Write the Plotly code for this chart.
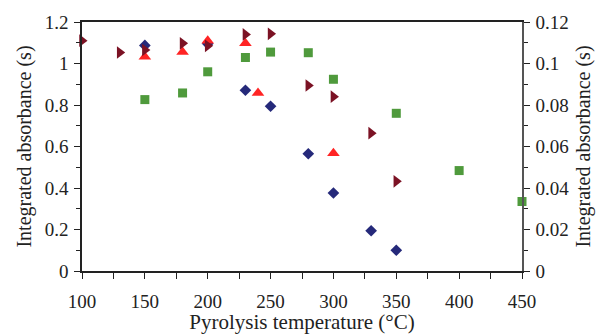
import plotly.graph_objects as go

# Data
x_diamond = [150, 200, 230, 250, 280, 300, 330, 350]
y_diamond = [1.087, 1.095, 0.871, 0.794, 0.565, 0.376, 0.194, 0.100]

x_tri_up = [150, 180, 200, 230, 240, 300]
y_tri_up = [1.032, 1.056, 1.110, 1.097, 0.858, 0.568]

x_tri_right = [100, 130, 150, 180, 200, 230, 250, 280, 300, 330, 350]
y_tri_right = [1.110, 1.053, 1.065, 1.097, 1.085, 1.140, 1.143, 0.894, 0.840, 0.664, 0.432]

x_square = [150, 180, 200, 230, 250, 280, 300, 350, 400, 450]
y_square = [0.0826, 0.0858, 0.0960, 0.1029, 0.1055, 0.1052, 0.0924, 0.0760, 0.0484, 0.0335]

x_ticks = [100, 150, 200, 250, 300, 350, 400, 450]
y_ticks = [0, 0.2, 0.4, 0.6, 0.8, 1.0, 1.2]
y_tick_labels = ["0", "0.2", "0.4", "0.6", "0.8", "1", "1.2"]
y2_ticks = [0, 0.02, 0.04, 0.06, 0.08, 0.10, 0.12]
y2_tick_labels = ["0", "0.02", "0.04", "0.06", "0.08", "0.1", "0.12"]

FONT = "Liberation Serif"
FS = 19

fig = go.Figure()
fig.add_trace(go.Scatter(x=x_square, y=y_square, mode="markers", yaxis="y2",
                         marker=dict(symbol="square", size=9, color="#4f9a3c"),
                         cliponaxis=False, showlegend=False))
fig.add_trace(go.Scatter(x=x_diamond, y=y_diamond, mode="markers",
                         marker=dict(symbol="diamond", size=9, color="#25297a"),
                         cliponaxis=False, showlegend=False))
fig.add_trace(go.Scatter(x=x_tri_up, y=y_tri_up, mode="markers",
                         marker=dict(symbol="triangle-up", size=11, color="#ff2424"),
                         cliponaxis=False, showlegend=False))
fig.add_trace(go.Scatter(x=x_tri_right, y=y_tri_right, mode="markers",
                         marker=dict(symbol="triangle-right", size=11, color="#7b1224"),
                         cliponaxis=False, showlegend=False))

fig.update_layout(
    width=604, height=334,
    margin=dict(l=82, r=82, t=22, b=63),
    paper_bgcolor="white", plot_bgcolor="white",
    font=dict(family=FONT, size=FS, color="#222"),
    xaxis=dict(range=[100, 450], tickvals=x_ticks, showgrid=False, zeroline=False,
               automargin=False,
               showline=True, linecolor="#222", linewidth=1.5, mirror=True,
               ticks="outside", ticklen=6, tickcolor="#222", ticklabelstandoff=6,
               minor=dict(dtick=25, ticks="outside", ticklen=6, tickcolor="#222"),
               title=dict(text="Pyrolysis temperature (°C)", standoff=2,
                          font=dict(family=FONT, size=21))),
    yaxis=dict(range=[0, 1.2], tickvals=y_ticks, ticktext=y_tick_labels,
               showgrid=False, zeroline=False, automargin=False,
               showline=True, linecolor="#222", linewidth=1.5,
               ticks="outside", ticklen=6, tickcolor="#222", ticklabelstandoff=2,
               minor=dict(dtick=0.1, ticks="outside", ticklen=4, tickcolor="#222"),
               title=dict(text="Integrated absorbance (s)", standoff=8,
                          font=dict(family=FONT, size=20))),
    yaxis2=dict(range=[0, 0.12], tickvals=y2_ticks, ticktext=y2_tick_labels,
                overlaying="y", side="right", showgrid=False, zeroline=False,
                automargin=False,
                showline=True, linecolor="#555", linewidth=1.5,
                ticks="outside", ticklen=6, tickcolor="#222", ticklabelstandoff=2,
                minor=dict(dtick=0.01, ticks="outside", ticklen=4, tickcolor="#222"),
                title=dict(text="Integrated absorbance (s)", standoff=8,
                           font=dict(family=FONT, size=20))),
)

fig.write_html("out.html")
